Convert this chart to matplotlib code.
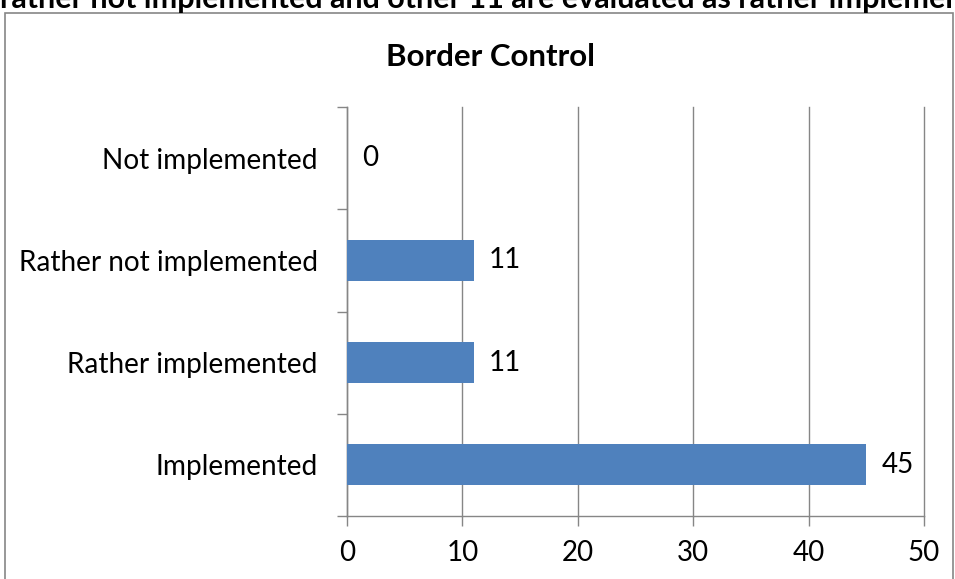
import matplotlib
matplotlib.use("Agg")
import matplotlib.pyplot as plt
from matplotlib.patches import Rectangle

categories = ["Implemented", "Rather implemented", "Rather not implemented", "Not implemented"]
values = [45, 11, 11, 0]
x_ticks = [0, 10, 20, 30, 40, 50]
title = "Border Control"
top_text = "rather not implemented and other 11 are evaluated as rather implemented"

plt.rcParams['font.family'] = ['Lato', 'DejaVu Sans']

W, H = 955, 579
fig = plt.figure(figsize=(W / 100, H / 100), dpi=100)

# chart outer frame
fig.patches.append(Rectangle((5 / W, -0.1), (953 - 5) / W, 1 - 13 / H + 0.1,
                             transform=fig.transFigure, fill=False,
                             edgecolor='#868686', linewidth=1.2))
fig.text(0.0, 1 - 8 / H, top_text, fontsize=22, fontweight='bold', ha='left', va='baseline')

ax = fig.add_axes([347 / W, 1 - 516 / H, (924 - 347) / W, (516 - 107) / H])
pos = list(range(len(categories)))
ax.barh(pos, values, height=0.4, color='#4F81BD', zorder=3)
ax.set_xlim(0, 50)
ax.set_ylim(-0.5, len(categories) - 0.5)
ax.set_xticks(x_ticks)
ax.set_xticklabels([str(t) for t in x_ticks], fontsize=20)
ax.set_yticks(pos)
ax.set_yticklabels(categories, fontsize=20.2)
ax.set_yticks([p - 0.5 for p in pos] + [len(categories) - 0.5], minor=True)
ax.tick_params(axis='y', which='major', length=0, pad=21)
ax.tick_params(axis='y', which='minor', length=7, color='#868686', width=1)
ax.tick_params(axis='x', which='major', length=7, color='#868686', width=1, pad=10)
ax.grid(axis='x', color='#868686', linewidth=1, zorder=0)
for gl in ax.get_xgridlines():
    gl.set_clip_on(False)
for s in ['top', 'right']:
    ax.spines[s].set_visible(False)
for s in ['left', 'bottom']:
    ax.spines[s].set_color('#868686')
    ax.spines[s].set_linewidth(1)
for p, v in zip(pos, values):
    ax.annotate(str(v), (v, p), xytext=(15, 0), textcoords='offset pixels',
                va='center', ha='left', fontsize=20)

fig.text(491 / W, 1 - 57 / H, title, fontsize=22.5, fontweight='bold', ha='center', va='center')

fig.savefig("out.png", dpi=100)
